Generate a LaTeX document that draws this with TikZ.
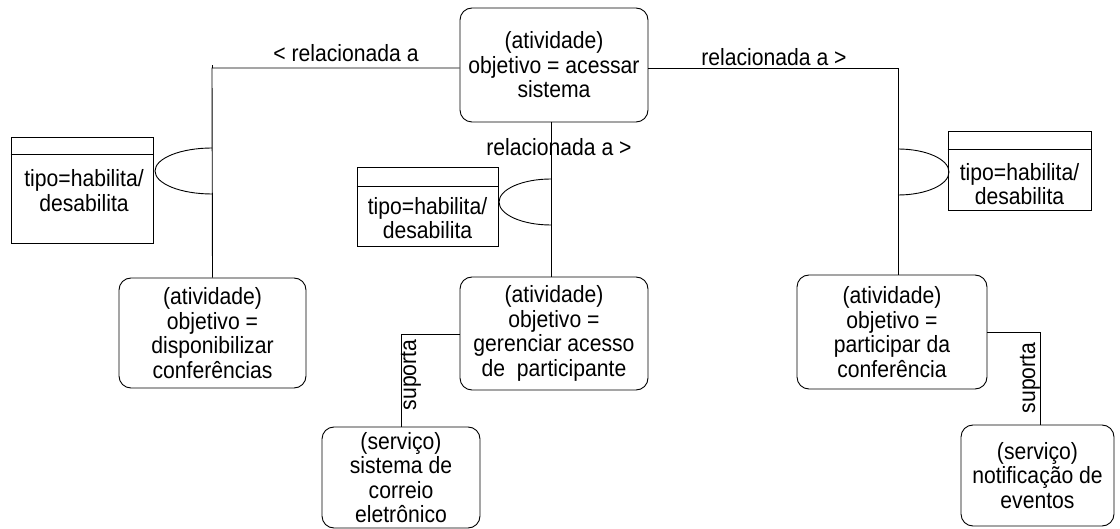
\documentclass[tikz,border=0pt]{standalone}
\usepackage{fontspec}
\setmainfont{Liberation Sans}[FakeStretch=0.9]
\begin{document}
\begin{tikzpicture}[x=1pt,y=-1pt,line width=0.9pt,
  every node/.style={font=\fontsize{23.5}{24.5}\selectfont},
  actbox/.style={draw,rounded corners=12pt,align=center,inner sep=0pt},
  attrbox/.style={draw,inner sep=0pt},
  lbl/.style={inner sep=0pt,align=center}]
\useasboundingbox (0,0) rectangle (1120,529);

% activity / service boxes (nodes sized to the reference)
\node[actbox,minimum width=188pt,minimum height=114pt] (top) at (554,65)
  {(atividade)\\objetivo = acessar\\sistema};
\node[actbox,minimum width=187pt,minimum height=110pt] (la) at (212.5,333)
  {(atividade)\\objetivo =\\disponibilizar\\conferências};
\node[actbox,minimum width=188pt,minimum height=113pt] (ma) at (554,333.5)
  {(atividade)\\objetivo =\\gerenciar acesso\\de\ \ participante};
\node[actbox,minimum width=190pt,minimum height=114pt] (ra) at (892,332)
  {(atividade)\\objetivo =\\participar da\\conferência};
\node[actbox,minimum width=158pt,minimum height=101pt] (sl) at (401,477.5)
  {(serviço)\\sistema de\\correio\\eletrônico};
\node[actbox,minimum width=153pt,minimum height=101pt] (sr) at (1037.5,475.5)
  {(serviço)\\notificação de\\eventos};

% attribute boxes
\node[attrbox,minimum width=142pt,minimum height=106pt] (al) at (82,190) {};
\draw (al.west |- 0,154) -- (al.east |- 0,154);
\node[lbl] (alt) at (84,190.5) {tipo=habilita/\\desabilita};
\node[attrbox,minimum width=141pt,minimum height=79pt] (am) at (427.5,206.5) {};
\draw (am.west |- 0,186) -- (am.east |- 0,186);
\node[lbl] (amt) at (427.5,218) {tipo=habilita/\\desabilita};
\node[attrbox,minimum width=143pt,minimum height=79pt] (ar) at (1019.5,170.5) {};
\draw (ar.west |- 0,149) -- (ar.east |- 0,149);
\node[lbl] (art) at (1019.5,184) {tipo=habilita/\\desabilita};

% junction coordinates
\coordinate (jL) at (212,68);
\coordinate (jR) at (898,68);
\coordinate (jM) at (551,122);
\coordinate (sL) at (401,334);
\coordinate (sR) at (1040,332);

% relation connectors
\draw (top.west |- jL) -- (jL) -- (la.north);
\draw (jL) -- ++(0,-3);
\draw (top.east |- jR) -- (jR) -- (jR |- ra.north);
\draw (jM) -- (jM |- ma.north);

% half ellipses
\draw (212,148) arc[start angle=270,end angle=90,x radius=57,y radius=23];
\draw (551,179) arc[start angle=270,end angle=90,x radius=52,y radius=23];
\draw (898,149) arc[start angle=-90,end angle=90,x radius=51,y radius=23];

% suporta connectors
\draw (ma.west |- sL) -- (sL) -- (sl.north);
\draw (ra.east |- sR) -- (sR) -- (sR |- sr.north);

% labels
\node[lbl] (l1) at (346,53) {< relacionada a};
\node[lbl] (l2) at (774,57) {relacionada a >};
\node[lbl] (l3) at (559,147) {relacionada a >};
\node[lbl,rotate=90] (l4) at (411,375) {suporta};
\node[lbl,rotate=90] (l5) at (1030,378) {suporta};
\end{tikzpicture}
\end{document}
